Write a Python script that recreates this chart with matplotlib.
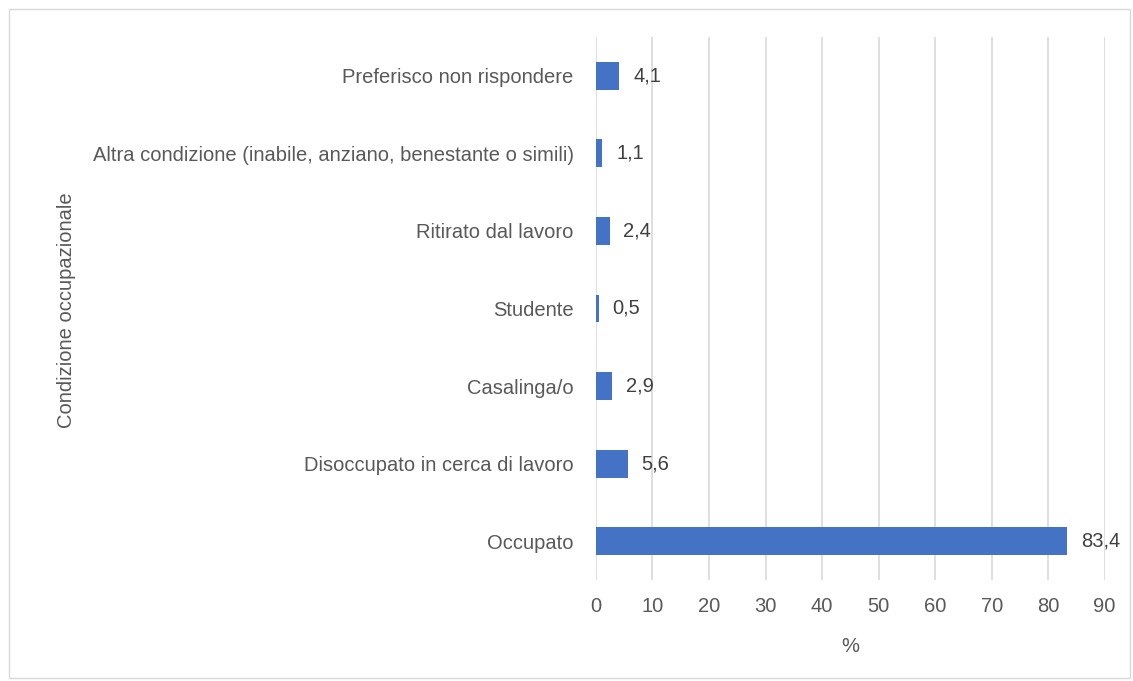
import matplotlib
matplotlib.use('Agg')
import matplotlib.pyplot as plt
from matplotlib.patches import Rectangle

# Data (bottom to top)
categories = [
    'Occupato',
    'Disoccupato in cerca di lavoro',
    'Casalinga/o',
    'Studente',
    'Ritirato dal lavoro',
    'Altra condizione (inabile, anziano, benestante o simili)',
    'Preferisco non rispondere',
]
values = [83.4, 5.6, 2.9, 0.5, 2.4, 1.1, 4.1]
xticks = [0, 10, 20, 30, 40, 50, 60, 70, 80, 90]

fs = 14.5
matplotlib.rc('font', family='Liberation Sans', size=fs)
textc = '#595959'
barc = '#4472C4'

fig = plt.figure(figsize=(11.33, 6.81), dpi=100)
ax = fig.add_axes([0.526, 0.148, 0.449, 0.798])

pos = range(len(categories))
ax.barh(pos, values, height=0.36, color=barc, zorder=3)
for p, v in zip(pos, values):
    ax.annotate(('%.1f' % v).replace('.', ','), (v, p), xytext=(10, 0),
                textcoords='offset points', va='center', ha='left',
                color='#404040', fontsize=fs)

ax.set_xlim(0, 90)
ax.set_ylim(-0.5, len(categories) - 0.5)
ax.set_xticks(xticks)
ax.set_yticks(list(pos))
ax.set_yticklabels(categories)
ax.tick_params(axis='both', length=0, colors=textc, labelsize=fs)
ax.tick_params(axis='x', pad=12)
ax.tick_params(axis='y', pad=16)
ax.grid(axis='x', color='#D9D9D9', linewidth=1.2, zorder=0)
for s in ax.spines.values():
    s.set_visible(False)

ax.set_xlabel('%', color=textc, fontsize=fs, labelpad=15)
fig.text(0.059, 0.545, 'Condizione occupazionale', rotation=90,
         ha='center', va='center', color=textc, fontsize=fs)

# Chart border
fig.patches.append(Rectangle((0.008, 0.005), 0.989, 0.982,
                             transform=fig.transFigure, fill=False,
                             edgecolor='#D9D9D9', linewidth=1))

plt.savefig('out.png', dpi=100)
